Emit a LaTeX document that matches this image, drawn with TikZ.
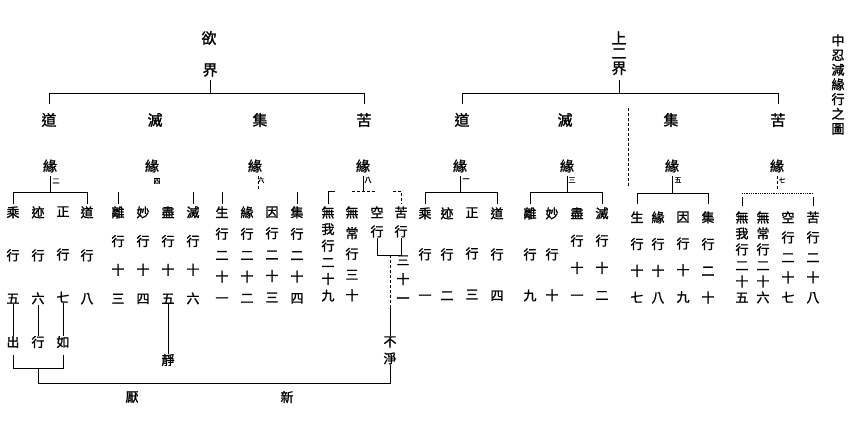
\documentclass[tikz,border=0pt]{standalone}
\usepackage{fontspec}
\newfontfamily\cjk{Noto Sans CJK TC}[FakeBold=1.4]
\begin{document}
\begin{tikzpicture}[x=1pt,y=-1pt,line width=0.8pt,
  ch/.style={font=\cjk\fontsize{13}{13}\selectfont,inner sep=0pt},
  big/.style={font=\cjk\fontsize{15}{15}\selectfont,inner sep=0pt},
  yuan/.style={font=\cjk\fontsize{14}{14}\selectfont,inner sep=0pt},
  sm/.style={font=\cjk\fontsize{7}{7}\selectfont,inner sep=0pt},
  vcol/.style={font=\cjk\fontsize{13}{#1}\selectfont,inner sep=0pt,align=center,anchor=north},
  dsh/.style={densely dashed}]
\useasboundingbox (0,0) rectangle (857,439);
% title
\node[vcol=14.7] (title) at (838,34) {中\\忍\\減\\緣\\行\\之\\圖};
% realms
\node[big] (yu) at (209,38) {欲};
\node[big] (jieL) at (210,70) {界};
\node[font=\cjk\fontsize{15}{15}\selectfont,inner sep=0pt,align=center,anchor=north] (shang) at (619,31) {上\\二\\界};
% truths
\node[big] (dL) at (49,120) {道};
\node[big] (mL) at (155,120) {滅};
\node[big] (jL) at (260,120) {集};
\node[big] (kL) at (364,120) {苦};
\node[big] (dR) at (462,120) {道};
\node[big] (mR) at (565,120) {滅};
\node[big] (jR) at (671,120) {集};
\node[big] (kR) at (778,120) {苦};
% yuan
\node[yuan] (yL1) at (50,166) {緣};
\node[yuan] (yL2) at (152,166) {緣};
\node[yuan] (yL3) at (255,166) {緣};
\node[yuan] (yL4) at (363,166) {緣};
\node[yuan] (yR1) at (460,166) {緣};
\node[yuan] (yR2) at (567,166) {緣};
\node[yuan] (yR3) at (672,166) {緣};
\node[yuan] (yR4) at (777,166) {緣};
\node[sm] (nL1) at (56,181) {二};
\node[sm] (nL2) at (157,181) {四};
\node[sm] (nL3) at (261,180) {六};
\node[sm] (nL4) at (368,180) {八};
\node[sm] (nR1) at (466,180) {一};
\node[sm] (nR2) at (572,180) {三};
\node[sm] (nR3) at (678,180) {五};
\node[sm] (nR4) at (782,180) {七};
% left dao
\node[vcol=43] (l1) at (13,206) {乘\\行\\五};
\node[vcol=43] (l2) at (38,206) {迹\\行\\六};
\node[vcol=43] (l3) at (63,206) {正\\行\\七};
\node[vcol=43] (l4) at (87,206) {道\\行\\八};
% left mie
\node[vcol=28.7] (l5) at (118,206) {離\\行\\十\\三};
\node[vcol=28.7] (l6) at (143,206) {妙\\行\\十\\四};
\node[vcol=28.7] (l7) at (168,206) {盡\\行\\十\\五};
\node[vcol=28.7] (l8) at (193,206) {滅\\行\\十\\六};
% left ji
\node[vcol=21.4] (l9) at (222,206) {生\\行\\二\\十\\一};
\node[vcol=21.4] (l10) at (247,206) {緣\\行\\二\\十\\二};
\node[vcol=21.4] (l11) at (272,206) {因\\行\\二\\十\\三};
\node[vcol=21.4] (l12) at (297,206) {集\\行\\二\\十\\四};
% left ku
\node[vcol=16.6] (l13) at (328,206) {無\\我\\行\\二\\十\\九};
\node[vcol=20.7] (l14) at (352,206) {無\\常\\行\\三\\十};
\node[vcol=19] (l15) at (377,206) {空\\行};
\node[vcol=19] (l16) at (401,206) {苦\\行};
\node[vcol=19] (l17) at (403,255) {三\\十\\一};
% right dao
\node[vcol=41] (r1) at (425,207) {乘\\行\\一};
\node[vcol=41] (r2) at (447,207) {迹\\行\\二};
\node[vcol=41] (r3) at (472,207) {正\\行\\三};
\node[vcol=41] (r4) at (497,207) {道\\行\\四};
% right mie
\node[vcol=41] (r5) at (530,207) {離\\行\\九};
\node[vcol=41] (r6) at (552,207) {妙\\行\\十};
\node[vcol=27.3] (r7) at (577,207) {盡\\行\\十\\一};
\node[vcol=27.3] (r8) at (602,207) {滅\\行\\十\\二};
% right ji
\node[vcol=26.7] (r9) at (637,211) {生\\行\\十\\七};
\node[vcol=26.7] (r10) at (658,211) {緣\\行\\十\\八};
\node[vcol=26.7] (r11) at (683,211) {因\\行\\十\\九};
\node[vcol=26.7] (r12) at (708,211) {集\\行\\二\\十};
% right ku
\node[vcol=16] (r13) at (742,211) {無\\我\\行\\二\\十\\五};
\node[vcol=16] (r14) at (763,211) {無\\常\\行\\二\\十\\六};
\node[vcol=20] (r15) at (788,211) {空\\行\\二\\十\\七};
\node[vcol=20] (r16) at (813,211) {苦\\行\\二\\十\\八};
% bottom
\node[ch] (chu) at (13,342) {出};
\node[ch] (xing) at (38,342) {行};
\node[ch] (ru) at (63,342) {如};
\node[ch] (jing) at (168,360) {靜};
\node[vcol=17] (bujing) at (390,336) {不\\淨};
\node[ch] (yan) at (132,397) {厭};
\node[ch] (xin) at (287,397) {新};
% ---- connectors: realms
\draw (jieL |- 0,80) -- (jieL |- 0,93);
\draw (dL |- 0,104) -- (dL |- 0,93) -- (kL |- 0,93) -- (kL |- 0,104);
\draw (shang |- 0,80) -- (shang |- 0,93);
\draw (dR |- 0,104) -- (dR |- 0,93) -- (kR |- 0,93) -- (kR |- 0,104);
\draw[dsh] (628,108) -- (628,188);
% ---- left groups
\draw (yL1 |- 0,176) -- (yL1 |- 0,192);
\draw (l1 |- 0,204) -- (l1 |- 0,192) -- (l4 |- 0,192) -- (l4 |- 0,204);
\draw (l5 |- 0,192) -- (l5 |- 0,204);
\draw (l8 |- 0,192) -- (l8 |- 0,204);
\draw[dsh] (258,176) -- (258,190);
\draw (l9 |- 0,192) -- (l9 |- 0,204);
\draw (l12 |- 0,192) -- (l12 |- 0,204);
\draw (yL4 |- 0,176) -- (yL4 |- 0,191);
\draw[dsh] (352,191) -- (375,191);
\draw (l13 |- 0,204) -- (l13 |- 0,191) -- (335,191);
\draw[dsh] (393,191) -- (l16 |- 0,191) -- (l16 |- 0,204);
\draw (l15.south) -- (l15 |- 0,255) -- (l16 |- 0,255) -- (l16.south);
\coordinate (mk) at (390,255);
\draw[dsh] (mk) -- (390,306);
\draw (390,306) -- (bujing.north);
% ---- right groups
\draw (yR1 |- 0,176) -- (yR1 |- 0,192);
\draw (r1 |- 0,204) -- (r1 |- 0,192) -- (r4 |- 0,192) -- (r4 |- 0,204);
\draw (yR2 |- 0,176) -- (yR2 |- 0,192);
\draw (r5 |- 0,204) -- (r5 |- 0,192) -- (r8 |- 0,192) -- (r8 |- 0,204);
\draw (yR3 |- 0,176) -- (yR3 |- 0,193);
\draw (r9 |- 0,204) -- (r9 |- 0,193) -- (r12 |- 0,193) -- (r12 |- 0,204);
\draw[dsh] (yR4 |- 0,176) -- (yR4 |- 0,190);
\draw[densely dotted] (r13 |- 0,193) -- (r16 |- 0,193);
\draw (r13 |- 0,197) -- (r13 |- 0,206);
\draw (r16 |- 0,197) -- (r16 |- 0,206);
% ---- bottom
\draw (l1.south) -- (chu.north);
\draw (l2.south) -- (xing.north);
\draw (l3.south) -- (ru.north);
\draw (l7.south) -- (jing.north);
\draw (chu |- 0,355) -- (chu |- 0,368) -- (ru |- 0,368) -- (ru |- 0,355);
\draw (xing |- 0,368) -- (xing |- 0,383);
\draw (xing |- 0,383) -- (bujing |- 0,383) -- (bujing.south);
\end{tikzpicture}
\end{document}
